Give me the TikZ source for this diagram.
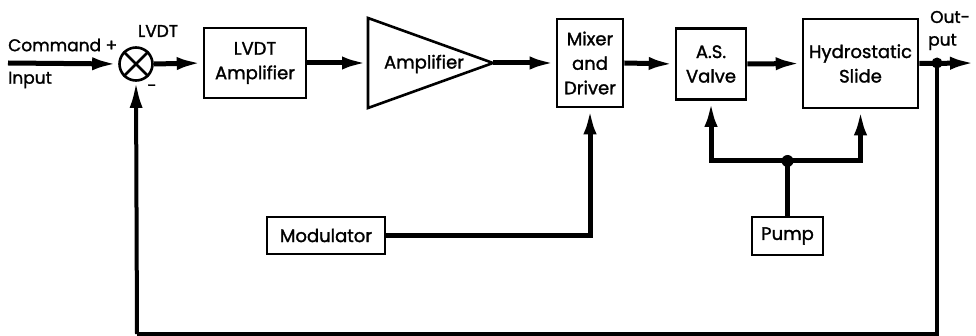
\documentclass[tikz,border=0pt]{standalone}
\usepackage{fontspec}
\setmainfont{Poppins}[BoldFont=Poppins, BoldFeatures={FakeBold=1.5}]
\usetikzlibrary{arrows.meta}
\tikzset{
  blk/.style={draw, line width=2.6pt, align=center, inner sep=0pt, font=\fontsize{18}{24.5}\selectfont\bfseries},
  sig/.style={line width=5pt, -{Latex[length=26pt,width=13pt]}},
  wire/.style={line width=5pt},
  lbl/.style={font=\fontsize{17}{19}\selectfont\bfseries, inner sep=0pt},
}
\begin{document}
\begin{tikzpicture}[x=1pt,y=-1pt]
\useasboundingbox (0,0) rectangle (976,336);
% summing junction
\node[draw, circle, line width=2.6pt, minimum size=33pt, inner sep=0pt] (sum) at (136,64) {};
\draw[line width=2.6pt] (sum.north east) -- (sum.south west) (sum.north west) -- (sum.south east);
\coordinate (in) at (8,63);
\node[lbl, anchor=west] (cmd) at (8,45) {Command +};
\node[lbl, anchor=west] (inp) at (8,80) {Input};
\node[lbl] (lvdtlbl) at (158,31) {LVDT};
\node[lbl] (minus) at (152,88) {-};
% blocks
\node[blk, minimum width=102pt, minimum height=70pt] (lvdtamp) at (255,63) {LVDT\\Amplifier};
\coordinate (ampL) at (368,63);
\coordinate (ampTop) at (368,18);
\coordinate (ampBot) at (368,108);
\coordinate (ampT) at (493,63);
\draw[line width=2.6pt, line join=miter] (ampTop) -- (ampT) -- (ampBot) -- cycle;
\node[blk, draw=none] (amptxt) at (424,64) {Amplifier};
\node[blk, minimum width=66pt, minimum height=88pt] (mixer) at (590,63) {Mixer\\and\\Driver};
\node[blk, minimum width=70pt, minimum height=71pt] (valve) at (711,64) {A.S.\\Valve};
\node[blk, minimum width=115pt, minimum height=89pt] (slide) at (860.5,63.5) {Hydrostatic\\Slide};
\node[blk, minimum width=118pt, minimum height=37pt] (mod) at (326,235.5) {Modulator};
\node[blk, minimum width=71pt, minimum height=38pt] (pump) at (787.5,236) {Pump};
% output
\coordinate (outj) at (937,63);
\coordinate (outend) at (976,63);
\node[lbl, anchor=west] (outlbl) at (930,17) {Out-};
\node[lbl, anchor=west] (putlbl) at (928,42) {put};
% main path
\draw[sig] (in) -- (sum.west);
\draw[sig] (sum.east) -- (lvdtamp.west);
\draw[sig] (lvdtamp.east) -- (ampL);
\draw[sig] (ampT) -- (mixer.west);
\draw[sig] (mixer.east) -- (valve.west);
\draw[sig] (valve.east) -- (slide.west);
\draw[sig] (slide.east) -- (outend);
\fill (outj) circle (5.5pt);
% feedback
\coordinate (fbR) at (937,334);
\coordinate (fbL) at (137,334);
\draw[wire, line width=4pt] (outj) -- (fbR) -- (fbL);
\draw[sig, line width=4pt] (fbL) -- (sum.south);
% modulator
\draw[sig] (mod.east) -| (mixer.south);
% pump
\coordinate (pj) at (pump.north |- 0,161);
\draw[wire] (pump.north) -- (pj);
\fill (pj) circle (6pt);
\draw[sig] (pj) -| (valve.south);
\draw[sig] (pj) -| (slide.south);
\end{tikzpicture}
\end{document}
